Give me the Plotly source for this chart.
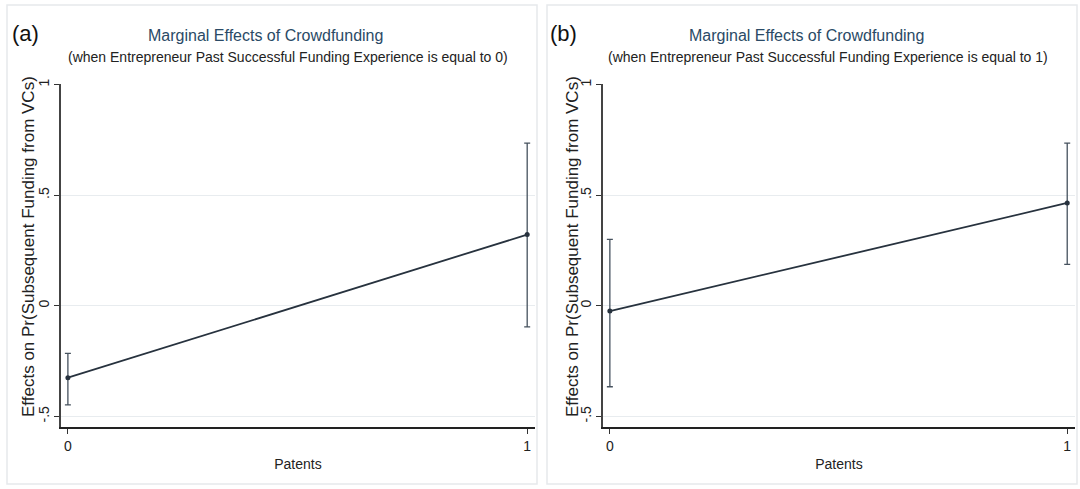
import plotly.graph_objects as go
from plotly.subplots import make_subplots

patents = [0, 1]
effect_a = [-0.325, 0.322]
lower_a = [-0.448, -0.095]
upper_a = [-0.215, 0.736]
effect_b = [-0.024, 0.465]
lower_b = [-0.366, 0.187]
upper_b = [0.300, 0.736]

y_ticks = [-0.5, 0, 0.5, 1]
y_tick_labels = ["-.5", "0", ".5", "1"]
x_ticks = [0, 1]
x_tick_labels = ["0", "1"]

panel_labels = ["(a)", "(b)"]
title = "Marginal Effects of Crowdfunding"
subtitles = ["(when Entrepreneur Past Successful Funding Experience is equal to 0)",
             "(when Entrepreneur Past Successful Funding Experience is equal to 1)"]
y_title = "Effects on Pr(Subsequent Funding from VCs)"
x_title = "Patents"

W, H = 1080, 489
ML, MR, MT, MB = 61, 5, 84, 62
PW = W - ML - MR
PH = H - MT - MB

def px(x):
    return (x - ML) / PW

def py(y):
    return (H - MB - y) / PH

fig = make_subplots(rows=1, cols=2, horizontal_spacing=0.067)
fig.update_layout(xaxis=dict(domain=[0, px(535)]), xaxis2=dict(domain=[px(603), 1]))

line_col = "#27323e"
for i, (eff, lo, up) in enumerate([(effect_a, lower_a, upper_a), (effect_b, lower_b, upper_b)]):
    plus = [u - e for u, e in zip(up, eff)]
    minus = [e - l for e, l in zip(eff, lo)]
    fig.add_trace(go.Scatter(
        x=patents, y=eff, mode="lines+markers",
        line=dict(color=line_col, width=1.8),
        marker=dict(color=line_col, size=5),
        error_y=dict(type="data", array=plus, arrayminus=minus, visible=True,
                     color="#46525e", thickness=1.3, width=3),
        showlegend=False), row=1, col=i + 1)

axis_font = dict(family="Liberation Sans, Arial, sans-serif", size=14, color="#222")
for c in (1, 2):
    fig.update_xaxes(range=[-0.015, 1.017], tickvals=x_ticks, ticktext=x_tick_labels,
                     ticks="outside", ticklen=5, tickcolor="#333", showgrid=False,
                     zeroline=False, showline=True, linecolor="#222", linewidth=2,
                     tickfont=axis_font,
                     title=dict(text=x_title, font=axis_font, standoff=6),
                     row=1, col=c)
    fig.update_yaxes(range=[-0.548, 1.003], tickvals=y_ticks, ticktext=y_tick_labels,
                     tickangle=-90, ticks="outside", ticklen=5, tickcolor="#333",
                     showgrid=True, gridcolor="#e8ecef", gridwidth=1,
                     zeroline=False, showline=True, linecolor="#444", linewidth=1.5,
                     tickfont=axis_font, row=1, col=c)

ann = []
panel_px = [(10, 265, 288, 28), (548, 806, 828, 572)]
for i, (lx, tx, sx, yx) in enumerate(panel_px):
    ann.append(dict(x=px(lx), y=py(33), xref="paper", yref="paper", text=panel_labels[i],
                    showarrow=False, xanchor="left", yanchor="middle",
                    font=dict(family="Liberation Sans, Arial, sans-serif", size=22, color="#111")))
    ann.append(dict(x=px(tx), y=py(35), xref="paper", yref="paper", text=title,
                    showarrow=False, xanchor="center", yanchor="middle",
                    font=dict(family="Liberation Sans Narrow, Arial Narrow, sans-serif", size=16, color="#2a4a66")))
    ann.append(dict(x=px(sx), y=py(57), xref="paper", yref="paper", text=subtitles[i],
                    showarrow=False, xanchor="center", yanchor="middle",
                    font=dict(family="Liberation Sans Narrow, Arial Narrow, sans-serif", size=14, color="#222")))
    ann.append(dict(x=px(yx), y=py(247), xref="paper", yref="paper", text=y_title,
                    showarrow=False, xanchor="center", yanchor="middle", textangle=-90,
                    font=dict(family="Liberation Sans, Arial, sans-serif", size=17, color="#222")))

shapes = []
for (x0, x1) in [(7, 537), (547, 1077)]:
    shapes.append(dict(type="rect", xref="paper", yref="paper",
                       x0=px(x0), x1=px(x1), y0=py(484), y1=py(5),
                       line=dict(color="#e6e9ec", width=1.5), layer="below"))

fig.update_layout(width=W, height=H, margin=dict(l=ML, r=MR, t=MT, b=MB),
                  paper_bgcolor="white", plot_bgcolor="white",
                  annotations=ann, shapes=shapes)

fig.write_html("out.html", config={"displayModeBar": False},
               post_script="document.body.style.margin='0';document.body.style.overflow='hidden';")
